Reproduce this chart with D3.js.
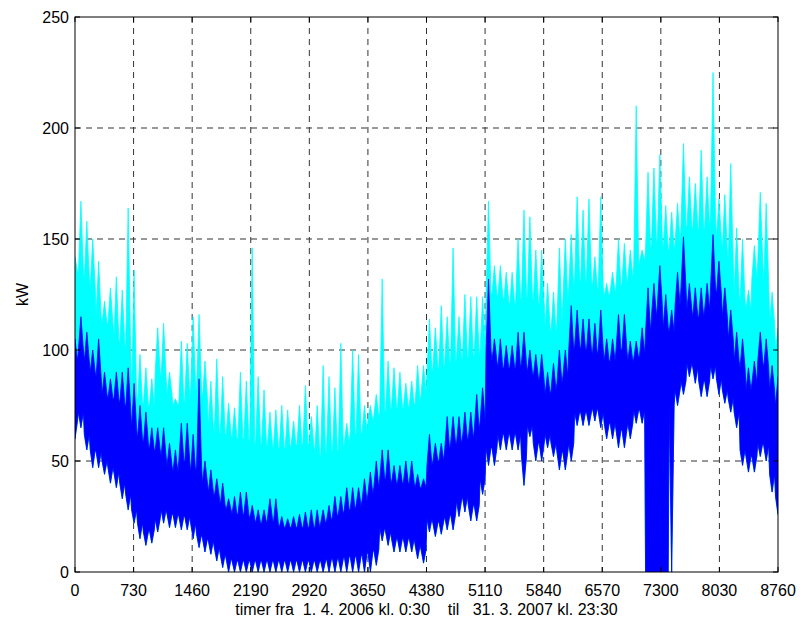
<!DOCTYPE html>
<html><head><meta charset="utf-8">
<script src="https://cdn.jsdelivr.net/npm/d3@7"></script>
<style>body{margin:0;background:#fff}svg{display:block}text{font-family:"Liberation Sans",Arial,sans-serif;white-space:pre;}</style>
</head><body>
<svg id="c" width="800" height="624"></svg>
<script>
// 120 consecutive 73-hour buckets across the year (hour 0 .. 8760)
const bucketCount = 120;
const xTicks = [0,730,1460,2190,2920,3650,4380,5110,5840,6570,7300,8030,8760];
const yTicks = [0,50,100,150,200,250];
// spike tops of the cyan series (kW)
const cyanMax = [142,167,158,150,140,122,128,133,127,164,136,98,92,87,110,112,90,78,104,103,
 115,116,95,86,96,88,76,74,90,86,146,88,82,72,73,75,73,68,75,84,
 70,75,93,88,83,103,67,100,98,75,75,80,132,95,92,90,85,86,93,93,
 114,110,120,115,146,115,125,124,124,124,167,138,138,135,135,150,163,160,145,145,
 130,126,146,150,152,169,163,168,142,169,130,135,150,148,145,210,145,180,182,188,
 165,162,166,193,178,175,190,178,225,168,170,184,155,150,127,147,171,166,126,110];
// dense upper edge of the cyan series (kW)
const cyanBody = [135,135,132,128,115,112,112,105,103,100,80,76,75,74,90,88,80,75,76,78,
 82,82,78,65,63,62,62,60,60,60,58,58,57,57,56,56,56,57,57,58,
 57,53,52,55,54,55,58,62,62,63,68,70,72,73,74,74,74,75,76,80,
 90,92,92,94,95,96,96,97,98,100,125,125,124,122,120,122,124,124,122,120,
 110,108,112,122,128,132,130,132,128,128,124,126,128,130,132,138,140,145,148,150,
 145,145,148,156,155,155,154,155,160,150,145,140,125,122,118,132,140,130,112,100];
// spike tops of the blue series (kW)
const blueMax = [105,115,108,100,105,90,87,90,90,92,85,75,72,65,65,65,58,55,67,67,
 62,87,50,46,42,40,33,34,36,36,30,28,28,33,33,25,24,25,26,27,
 28,28,28,30,34,34,38,38,38,42,45,50,55,55,48,48,50,50,44,42,
 62,58,58,70,70,70,72,72,80,83,132,105,105,102,102,108,108,100,98,98,
 90,94,100,100,120,118,114,114,112,118,105,105,116,116,104,104,110,128,130,138,
 125,118,135,151,130,128,128,130,152,140,128,118,108,105,92,95,108,105,93,88];
// dense upper edge of the blue series (kW)
const blueBody = [95,100,95,90,88,80,78,78,76,74,65,60,58,55,55,52,48,45,50,50,
 45,48,40,36,34,30,28,26,26,26,24,22,22,24,22,20,20,20,20,20,
 20,20,22,23,25,26,28,28,30,32,35,38,42,42,40,40,40,40,38,38,
 48,50,50,55,58,58,60,60,64,68,100,95,92,92,92,92,94,90,88,86,
 80,82,85,88,100,102,100,100,98,100,95,95,100,100,95,96,98,108,115,120,
 110,108,120,128,118,115,115,118,128,125,115,105,95,92,82,85,95,92,82,75];
// dense lower edge of the blue series (kW)
const blueLow = [68,72,62,55,54,50,47,45,40,35,28,22,18,19,24,28,26,26,25,25,
 22,17,15,14,11,8,6,5,5,5,5,5,5,5,5,5,5,5,5,5,
 5,5,5,6,6,6,7,7,7,8,9,10,20,18,15,15,15,15,12,10,
 24,22,23,25,26,32,34,30,30,42,56,56,62,62,62,62,52,66,58,58,
 62,58,54,54,58,72,72,72,74,72,67,67,64,64,67,73,73,0,0,0,
 0,75,82,86,94,92,86,86,93,87,82,78,72,55,52,52,58,57,44,34];
// dip bottoms of the blue series (kW)
const blueMin = [60,65,55,47,47,44,40,38,33,28,22,15,12,13,18,22,20,20,19,19,
 15,11,9,8,5,2,0,0,0,0,0,0,0,0,0,0,0,0,0,0,
 0,0,0,0,0,0,0,0,0,0,0,3,14,12,9,9,9,9,6,4,
 18,16,17,19,19,25,27,23,23,35,48,48,55,55,55,55,39,61,50,50,
 56,52,46,46,50,66,66,66,68,65,60,60,56,56,60,67,67,0,0,0,
 0,0,75,80,88,85,79,79,87,80,76,72,65,48,45,45,52,50,36,26];
const xLabel = "timer fra  1. 4. 2006 kl. 0:30    til   31. 3. 2007 kl. 23:30";
const yLabel = "kW";

const svg = d3.select("#c");
const L=75,R=778,T=17,B=572;
const x = d3.scaleLinear().domain([0,8760]).range([L,R]);
const y = d3.scaleLinear().domain([0,250]).range([B,T]);
const hours = d3.range(bucketCount).map(i => i*8760/(bucketCount-1));

svg.append("defs").append("clipPath").attr("id","clip")
  .append("rect").attr("x",L).attr("y",T).attr("width",R-L).attr("height",B-T);

// grid
const g = svg.append("g");
g.selectAll(".vg").data(xTicks.slice(1,-1)).join("line")
  .attr("x1",d=>x(d)).attr("x2",d=>x(d)).attr("y1",T).attr("y2",B)
  .attr("stroke","#333").attr("stroke-dasharray","6,5").attr("stroke-width",1);
g.selectAll(".hg").data(yTicks.slice(1,-1)).join("line")
  .attr("y1",d=>y(d)).attr("y2",d=>y(d)).attr("x1",L).attr("x2",R)
  .attr("stroke","#333").attr("stroke-dasharray","6,5").attr("stroke-width",1);

// each bucket drawn as a spike: dense levels on both flanks, extreme values in the middle
const halfW = 8760/(bucketCount-1)*0.42;
function sawtooth(top, body){
  const pts = [];
  hours.forEach((h,i)=>{
    pts.push({h:h-halfW, t:body[i], m:blueLow[i]});
    pts.push({h:h, t:top[i], m:blueMin[i]});
    pts.push({h:h+halfW, t:body[i], m:blueLow[i]});
  });
  return pts;
}
const plot = svg.append("g").attr("clip-path","url(#clip)");
const area = d3.area().x(d=>x(d.h)).y0(d=>y(d.m)).y1(d=>y(d.t));
plot.append("path").datum(sawtooth(cyanMax, cyanBody)).attr("d", area)
  .attr("fill","#00ffff").attr("stroke","#00ffff").attr("stroke-width",0.8);
plot.append("path").datum(sawtooth(blueMax, blueBody)).attr("d", area)
  .attr("fill","#0000ff").attr("stroke","#0000ff").attr("stroke-width",0.8);

// axes box + inward ticks
svg.append("rect").attr("x",L).attr("y",T).attr("width",R-L).attr("height",B-T)
  .attr("fill","none").attr("stroke","#000").attr("stroke-width",1);
const tk = svg.append("g").attr("stroke","#000");
xTicks.forEach(t=>{
  tk.append("line").attr("x1",x(t)).attr("x2",x(t)).attr("y1",B).attr("y2",B-5);
  tk.append("line").attr("x1",x(t)).attr("x2",x(t)).attr("y1",T).attr("y2",T+5);
});
yTicks.forEach(t=>{
  tk.append("line").attr("y1",y(t)).attr("y2",y(t)).attr("x1",L).attr("x2",L+5);
  tk.append("line").attr("y1",y(t)).attr("y2",y(t)).attr("x1",R).attr("x2",R-5);
});
svg.append("g").selectAll("text").data(xTicks).join("text")
  .attr("x",d=>x(d)).attr("y",B+24).attr("text-anchor","middle")
  .attr("font-size",16).text(d=>d);
svg.append("g").selectAll("text").data(yTicks).join("text")
  .attr("x",L-6).attr("y",d=>y(d)+6).attr("text-anchor","end")
  .attr("font-size",16).text(d=>d);
svg.append("text").attr("x",(L+R)/2).attr("y",615).attr("text-anchor","middle")
  .attr("font-size",16).text(xLabel);
svg.append("text").attr("transform",`translate(28,${(T+B)/2}) rotate(-90)`)
  .attr("text-anchor","middle").attr("font-size",16).text(yLabel);
</script>
</body></html>
